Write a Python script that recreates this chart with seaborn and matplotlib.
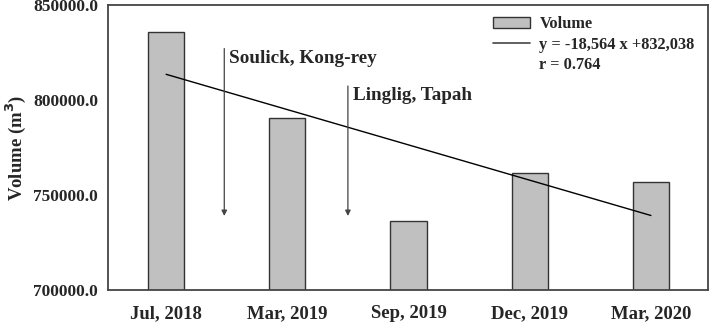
import numpy as np
import pandas as pd
import matplotlib
matplotlib.use("Agg")
import matplotlib.pyplot as plt
from matplotlib.lines import Line2D
from matplotlib.patches import Patch
import seaborn as sns

# data
dates = ["Jul, 2018", "Mar, 2019", "Sep, 2019", "Dec, 2019", "Mar, 2020"]
volume = [835800, 790500, 736300, 761600, 756800]

# trend line from the legend equation
slope = -18564
intercept = 832038
r_value = 0.764

# typhoon events (position between periods, arrow top)
events = ["Soulick, Kong-rey", "Linglig, Tapah"]
event_x = [0.48, 1.50]
event_top = [828500, 808800]
arrow_bottom = 737500

sns.set_theme(style="white")
plt.rcParams["font.family"] = ["Liberation Serif", "DejaVu Serif"]
plt.rcParams["font.weight"] = "bold"

df = pd.DataFrame({"date": dates, "volume": volume})
trend = pd.DataFrame({"x": np.arange(len(dates)),
                      "y": intercept + slope * np.arange(1, len(dates) + 1)})

fig = plt.figure(figsize=(7.1, 3.23), dpi=100)
ax = fig.add_axes([0.152, 0.102, 0.845, 0.883])

sns.barplot(data=df, x="date", y="volume", color="#c0c0c0", width=0.3,
            edgecolor="#333333", linewidth=1.0, saturation=1, ax=ax)
sns.lineplot(data=trend, x="x", y="y", color="black", linewidth=1.0, ax=ax)

for name, xe, top in zip(events, event_x, event_top):
    ax.annotate("", xy=(xe, arrow_bottom), xytext=(xe, top),
                arrowprops=dict(arrowstyle="-|>", color="#444444", lw=0.9,
                                mutation_scale=8))
    ax.text(xe + 0.04, top - 6500, name, fontsize=13.8, fontweight="bold",
            va="center", ha="left")

ax.set_ylim(700000, 850000)
ax.set_xlim(-0.48, 4.47)
ax.set_yticks([700000, 750000, 800000, 850000])
ax.set_yticklabels([f"{v:.1f}" for v in [700000, 750000, 800000, 850000]])
ax.set_xlabel("")
ax.set_ylabel("Volume (m$^\\mathbf{3}$)", fontsize=13.5, fontweight="bold",
              labelpad=4)
ax.tick_params(axis="y", direction="out", length=4, width=1, color="#333333",
               labelsize=12.5, pad=3)
ax.tick_params(axis="x", length=0, labelsize=13.5, pad=11)
for lab in ax.get_xticklabels() + ax.get_yticklabels():
    lab.set_fontweight("bold")
for sp in ax.spines.values():
    sp.set_visible(True)
    sp.set_color("#444444")
    sp.set_linewidth(1.3)

handles = [Patch(facecolor="#c0c0c0", edgecolor="#333333", linewidth=1.0),
           Line2D([], [], color="#444444", linewidth=1.2),
           Line2D([], [], color="none")]
labels = ["Volume", "y = -18,564 x +832,038", f"r = {r_value}"]
leg = ax.legend(handles, labels, loc="upper left",
                bbox_to_anchor=(0.636, 0.972), frameon=False,
                fontsize=11.8, handlelength=2.3, handleheight=0.6,
                handletextpad=0.55, labelspacing=0.28, borderaxespad=0.0,
                borderpad=0.2)
for t in leg.get_texts():
    t.set_fontweight("bold")

fig.savefig("out.png", dpi=100)
